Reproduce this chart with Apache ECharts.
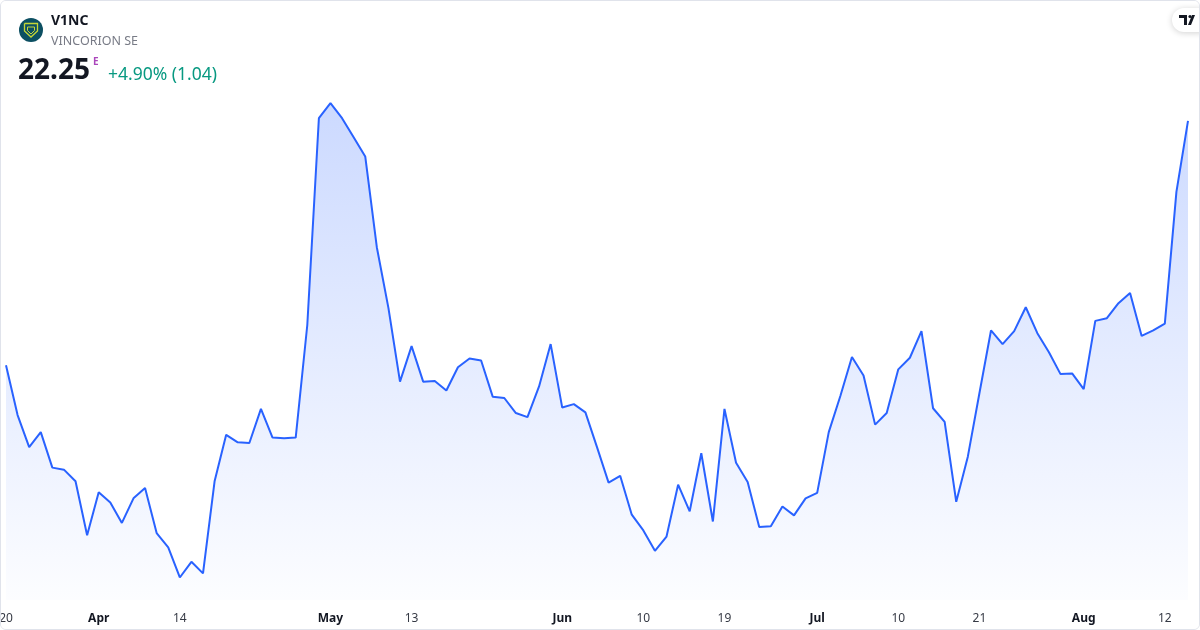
<!DOCTYPE html>
<html>
<head>
<meta charset="utf-8">
<script src="https://cdn.jsdelivr.net/npm/echarts@6/dist/echarts.min.js"></script>
<style>
  html, body { margin: 0; padding: 0; background: #ffffff; }
  #frame { position: absolute; left: 0; top: 0; width: 1198px; height: 628px; border: 1px solid #e0e3eb; border-radius: 6px; overflow: hidden; }
  #chart { width: 1200px; height: 630px; position: absolute; left: -1px; top: -1px; }
</style>
</head>
<body>
<div id="frame"><div id="chart"></div></div>
<script>
// Trading days 2026-03-20 .. 2026-08-14
const dates = [
  '2026-03-20','2026-03-23','2026-03-24','2026-03-25','2026-03-26','2026-03-27','2026-03-30','2026-03-31',
  '2026-04-01','2026-04-02','2026-04-07','2026-04-08','2026-04-09','2026-04-10','2026-04-13','2026-04-14',
  '2026-04-15','2026-04-16','2026-04-17','2026-04-20','2026-04-21','2026-04-22','2026-04-23','2026-04-24',
  '2026-04-27','2026-04-28','2026-04-29','2026-04-30',
  '2026-05-04','2026-05-05','2026-05-06','2026-05-07','2026-05-08','2026-05-11','2026-05-12','2026-05-13',
  '2026-05-14','2026-05-15','2026-05-18','2026-05-19','2026-05-20','2026-05-21','2026-05-22','2026-05-25',
  '2026-05-26','2026-05-27','2026-05-28','2026-05-29',
  '2026-06-01','2026-06-02','2026-06-03','2026-06-04','2026-06-05','2026-06-08','2026-06-09','2026-06-10',
  '2026-06-11','2026-06-12','2026-06-15','2026-06-16','2026-06-17','2026-06-18','2026-06-19','2026-06-22',
  '2026-06-23','2026-06-24','2026-06-25','2026-06-26','2026-06-29','2026-06-30',
  '2026-07-01','2026-07-02','2026-07-03','2026-07-06','2026-07-07','2026-07-08','2026-07-09','2026-07-10',
  '2026-07-13','2026-07-14','2026-07-15','2026-07-16','2026-07-17','2026-07-20','2026-07-21','2026-07-22',
  '2026-07-23','2026-07-24','2026-07-27','2026-07-28','2026-07-29','2026-07-30','2026-07-31',
  '2026-08-03','2026-08-04','2026-08-05','2026-08-06','2026-08-07','2026-08-10','2026-08-11','2026-08-12',
  '2026-08-13','2026-08-14'
];

const closes = [
  18.67,17.94,17.47,17.69,17.17,17.14,16.97,16.18,
  16.81,16.66,16.36,16.72,16.87,16.21,16.00,15.56,
  15.79,15.62,16.97,17.65,17.54,17.53,18.03,17.61,
  17.60,17.61,19.26,22.29,
  22.51,22.29,22.01,21.73,20.40,19.51,18.43,18.95,
  18.43,18.44,18.30,18.64,18.77,18.74,18.21,18.19,
  17.97,17.91,18.36,18.98,
  18.05,18.10,17.98,17.47,16.95,17.05,16.48,16.25,
  15.95,16.16,16.92,16.53,17.38,16.38,18.03,17.24,
  16.96,16.30,16.31,16.60,16.47,16.72,
  16.80,17.69,18.22,18.79,18.52,17.80,17.97,18.61,
  18.78,19.17,18.04,17.84,16.67,17.33,18.26,19.18,
  18.98,19.17,19.52,19.14,18.86,18.54,18.55,
  18.32,19.32,19.36,19.58,19.73,19.10,19.18,19.28,
  21.21,22.25
];

// x-axis tick labels (index into dates -> text)
const tickIndex = [0, 8, 15, 28, 35, 48, 55, 62, 70, 77, 84, 93, 100];
const tickText  = ['20','Apr','14','May','13','Jun','10','19','Jul','10','21','Aug','12'];
const monthTicks = ['Apr','May','Jun','Jul','Aug'];

const symbol = 'V1NC';
const company = 'VINCORION SE';
const lastPrice = '22.25';
const changeText = '+4.90% (1.04)';

const FONT = '"Noto Sans", Roboto, sans-serif';

const chart = echarts.init(document.getElementById('chart'), null, { renderer: 'canvas' });

const tickMap = {};
tickIndex.forEach((idx, k) => { tickMap[idx] = tickText[k]; });

chart.setOption({
  animation: false,
  backgroundColor: '#ffffff',
  grid: { left: 6, right: 12, top: 80, bottom: 30, containLabel: false, outerBoundsMode: 'none' },
  xAxis: {
    type: 'category',
    data: dates,
    boundaryGap: false,
    axisLine: { show: false },
    axisTick: { show: false },
    splitLine: { show: false },
    axisLabel: {
      margin: 13,
      hideOverlap: false,
      interval: (idx) => tickMap[idx] !== undefined,
      formatter: (val, idx) => {
        const t = tickMap[idx];
        if (t === undefined) return '';
        return monthTicks.indexOf(t) >= 0 ? '{b|' + t + '}' : '{n|' + t + '}';
      },
      rich: {
        n: { fontFamily: FONT, fontSize: 12, color: '#363a45' },
        b: { fontFamily: FONT, fontSize: 12, fontWeight: 'bold', color: '#131722' }
      }
    }
  },
  yAxis: {
    type: 'value',
    min: 15.23,
    max: 22.85,
    show: false,
    splitLine: { show: false }
  },
  series: [{
    type: 'line',
    data: closes,
    showSymbol: false,
    symbol: 'none',
    lineStyle: { color: '#2962ff', width: 2 },
    itemStyle: { color: '#2962ff' },
    areaStyle: {
      color: {
        type: 'linear', x: 0, y: 0, x2: 0, y2: 1,
        colorStops: [
          { offset: 0, color: 'rgba(41,98,255,0.34)' },
          { offset: 1, color: 'rgba(41,98,255,0.02)' }
        ]
      }
    }
  }],
  graphic: [
    // company logo
    { type: 'circle', shape: { cx: 31, cy: 30, r: 12 }, style: { fill: '#0c4f62' } },
    { type: 'polyline', shape: { points: [[24.5,23.5],[37.5,23.5],[37.5,31],[31,37],[24.5,31],[24.5,23.5]] },
      style: { stroke: '#c5d636', lineWidth: 1.3, fill: 'none' } },
    { type: 'polyline', shape: { points: [[27.5,27],[34.5,27],[34.5,30.5],[31,34],[27.5,30.5],[27.5,27]] },
      style: { stroke: '#c5d636', lineWidth: 1, fill: 'none' } },
    { type: 'text', left: 51, top: 14, style: { text: symbol, font: 'bold 14px ' + FONT, fill: '#131722' } },
    { type: 'text', left: 51, top: 35, style: { text: company, font: '12.5px ' + FONT, fill: '#787b86' } },
    { type: 'text', left: 18, top: 57, style: { text: lastPrice, font: 'bold 28px ' + FONT, fill: '#131722' } },
    { type: 'text', left: 93, top: 57, style: { text: 'E', font: 'bold 10px ' + FONT, fill: '#ab47bc' } },
    { type: 'text', left: 108, top: 66, style: { text: changeText, font: '17.5px ' + FONT, fill: '#089981' } },
    // TradingView badge
    { type: 'rect', shape: { x: 1172, y: 8, width: 40, height: 24, r: 12 },
      style: { fill: '#ffffff', shadowBlur: 6, shadowColor: 'rgba(0,0,0,0.18)', shadowOffsetY: 1 } },
    { type: 'rect', shape: { x: 1179, y: 15, width: 8, height: 3 }, style: { fill: '#131722' } },
    { type: 'rect', shape: { x: 1184, y: 15, width: 3, height: 10 }, style: { fill: '#131722' } },
    { type: 'circle', shape: { cx: 1190, cy: 16.5, r: 1.6 }, style: { fill: '#131722' } },
    { type: 'polygon', shape: { points: [[1192,15],[1195,15],[1191,25],[1188,25]] }, style: { fill: '#131722' } }
  ]
});
</script>
</body>
</html>
